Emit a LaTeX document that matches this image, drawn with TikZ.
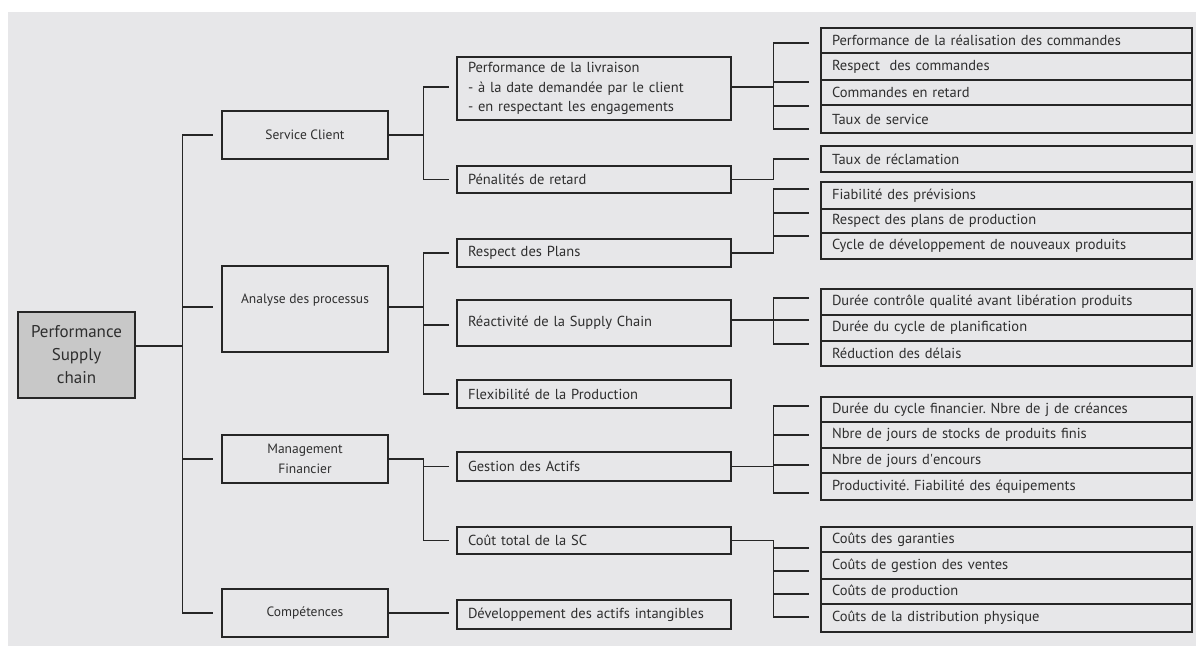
\documentclass[tikz,border=0pt]{standalone}
\usepackage{fontspec}
\setmainfont{PT Sans}
\usetikzlibrary{positioning}
\definecolor{ink}{HTML}{262626}
\definecolor{txt}{HTML}{2E2E2E}
\definecolor{paper}{HTML}{E7E7E9}
\definecolor{rootgrey}{HTML}{C8C8C8}
\newcommand{\boxfont}{\fontsize{14.5pt}{19.5pt}\selectfont}
\newcommand{\axisfont}{\fontsize{13.5pt}{20pt}\selectfont}
\frenchspacing
\tikzset{
  rootbox/.style={draw=ink,fill=rootgrey,line width=1.2pt,minimum width=117pt,minimum height=86pt,align=center,inner sep=2pt,font=\fontsize{17pt}{23pt}\selectfont,text=txt},
  axisbox/.style={draw=ink,line width=1.2pt,minimum width=166pt,minimum height=48pt,align=center,inner sep=2pt,font=\axisfont,text=txt},
  levelbox/.style={draw=ink,line width=1.2pt,text width=252pt,inner xsep=11pt,inner ysep=1pt,align=left,font=\boxfont,text=txt},
  kpibox/.style={draw=ink,line width=2.2pt,text width=349pt,inner xsep=11pt,inner ysep=1pt,align=left,font=\boxfont,text=txt},
  link/.style={draw=ink,line width=1.1pt},
  toaxis/.style={link,shorten >=8pt},
  tolevel/.style={link,shorten >=7pt},
  tokpi/.style={link,shorten >=11pt}
}
\begin{document}
\begin{tikzpicture}[x=1pt,y=-1pt]
\useasboundingbox (0,0) rectangle (1196,646);
\fill[paper] (8,12) rectangle (1196,646);
\node[rootbox] (root) at (76.5,355) {Performance\\Supply\\chain};
\node[axisbox] (sc) at (305,135) {Service Client};
\node[axisbox,minimum height=86pt,text depth=21pt] (ap) at (305,309) {Analyse des processus};
\node[axisbox] (mf) at (305,459) {Management\\Financier};
\node[axisbox] (co) at (305,613) {Compétences};
\node[levelbox,minimum height=63pt] (pl) at (594,88.5)
 {Performance de la livraison\\- à la date demandée par le client\\- en respectant les engagements};
\node[levelbox,minimum height=27pt] (pr) at (594,179.5) {Pénalités de retard};
\node[levelbox,minimum height=28pt] (rp) at (594,253) {Respect des Plans};
\node[levelbox,minimum height=46pt] (rs) at (594,323) {Réactivité de la Supply Chain};
\node[levelbox,minimum height=28pt] (fp) at (594,394) {Flexibilité de la Production};
\node[levelbox,minimum height=29pt] (ga) at (594,466.5) {Gestion des Actifs};
\node[levelbox,minimum height=27pt] (ct) at (594,540.5) {Coût total de la SC};
\node[levelbox,minimum height=29pt] (da) at (594,614.5) {Développement des actifs intangibles};
\node[kpibox,minimum height=25pt] (pl1) at (1006.5,40.5) {Performance de la réalisation des commandes};
\node[kpibox,minimum height=27pt] (pl2) at (1006.5,66.5) {Respect~ des commandes};
\node[kpibox,minimum height=25pt] (pl3) at (1006.5,92.5) {Commandes en retard};
\node[kpibox,minimum height=28pt] (pl4) at (1006.5,119) {Taux de service};
\node[kpibox,minimum height=26pt] (pr1) at (1006.5,159) {Taux de réclamation};
\node[kpibox,minimum height=27pt] (rp1) at (1006.5,195.5) {Fiabilité des prévisions};
\node[kpibox,minimum height=24pt] (rp2) at (1006.5,221) {Respect des plans de production};
\node[kpibox,minimum height=26pt] (rp3) at (1006.5,246) {Cycle de développement de nouveaux produits};
\node[kpibox,minimum height=26pt] (rs1) at (1006.5,302) {Durée contrôle qualité avant libération produits};
\node[kpibox,minimum height=26pt] (rs2) at (1006.5,328) {Durée du cycle de planification};
\node[kpibox,minimum height=25pt] (rs3) at (1006.5,353.5) {Réduction des délais};
\node[kpibox,minimum height=25pt] (ga1) at (1006.5,409.5) {Durée du cycle financier. Nbre de j de créances};
\node[kpibox,minimum height=26pt] (ga2) at (1006.5,435) {Nbre de jours de stocks de produits finis};
\node[kpibox,minimum height=25pt] (ga3) at (1006.5,460.5) {Nbre de jours d\textquotesingle encours};
\node[kpibox,minimum height=27pt] (ga4) at (1006.5,486.5) {Productivité. Fiabilité des équipements};
\node[kpibox,minimum height=25pt] (ct1) at (1006.5,539.5) {Coûts des garanties};
\node[kpibox,minimum height=27pt] (ct2) at (1006.5,565.5) {Coûts de gestion des ventes};
\node[kpibox,minimum height=25pt] (ct3) at (1006.5,591.5) {Coûts de production};
\node[kpibox,minimum height=28pt] (ct4) at (1006.5,618) {Coûts de la distribution physique};
\draw[toaxis] ([yshift=9pt]root.east) -- ++(47,0) |- (sc.west);
\draw[toaxis] ([yshift=9pt]root.east) -- ++(47,0) |- ([yshift=2pt]ap.west);
\draw[toaxis] ([yshift=9pt]root.east) -- ++(47,0) |- (mf.west);
\draw[toaxis] ([yshift=9pt]root.east) -- ++(47,0) |- (co.west);
\draw[tolevel] (sc.east) -- ++(35,0) |- ([yshift=1.5pt]pl.west); \draw[tolevel] (sc.east) -- ++(35,0) |- (pr.west);
\draw[tolevel] ([yshift=2pt]ap.east) -- ++(35,0) |- (rp.west); \draw[tolevel] ([yshift=2pt]ap.east) -- ++(35,0) |- ([yshift=-2pt]rs.west);
\draw[tolevel] ([yshift=2pt]ap.east) -- ++(35,0) |- (fp.west);
\draw[tolevel] (mf.east) -- ++(35,0) |- (ga.west); \draw[tolevel] (mf.east) -- ++(35,0) |- (ct.west);
\draw[tolevel] (co.east) -- (da.west |- co.east);
\draw[tokpi] ([yshift=1.5pt]pl.east) -- ++(42,0) |- ([yshift=-2.5pt]pl1.west); \draw[tokpi] ([yshift=1.5pt]pl.east) -- ++(42,0) |- ([yshift=-15.5pt]pl2.west);
\draw[tokpi] ([yshift=1.5pt]pl.east) -- ++(42,0) |- ([yshift=-13.5pt]pl3.west); \draw[tokpi] ([yshift=1.5pt]pl.east) -- ++(42,0) |- ([yshift=-10pt]pl4.west);
\draw[tokpi] (pr.east) -- ++(42,0) |- (pr1.west);
\draw[tokpi] (rp.east) -- ++(42,0) |- ([yshift=6.5pt]rp1.west); \draw[tokpi] (rp.east) -- ++(42,0) |- ([yshift=8pt]rp2.west);
\draw[tokpi] (rp.east) -- ++(42,0) |- ([yshift=10pt]rp3.west);
\draw[tokpi] ([yshift=3pt]rs.east) -- ++(42,0) |- ([yshift=4pt]rs1.west); \draw[tokpi] ([yshift=3pt]rs.east) -- ++(42,0) |- ([yshift=8pt]rs2.west);
\draw[tokpi] ([yshift=3pt]rs.east) -- ++(42,0) |- ([yshift=9.5pt]rs3.west);
\draw[tokpi] (ga.east) -- ++(42,0) |- ([yshift=3.5pt]ga1.west); \draw[tokpi] (ga.east) -- ++(42,0) |- (ga2.west);
\draw[tokpi] (ga.east) -- ++(42,0) |- ([yshift=-4.5pt]ga3.west); \draw[tokpi] (ga.east) -- ++(42,0) |- ([yshift=-6.5pt]ga4.west);
\draw[tokpi] (ct.east) -- ++(42,0) |- ([yshift=-8.5pt]ct1.west); \draw[tokpi] (ct.east) -- ++(42,0) |- ([yshift=-5.5pt]ct2.west);
\draw[tokpi] (ct.east) -- ++(42,0) |- ([yshift=-2.5pt]ct3.west); \draw[tokpi] (ct.east) -- ++(42,0) |- ([yshift=1pt]ct4.west);
\end{tikzpicture}
\end{document}
